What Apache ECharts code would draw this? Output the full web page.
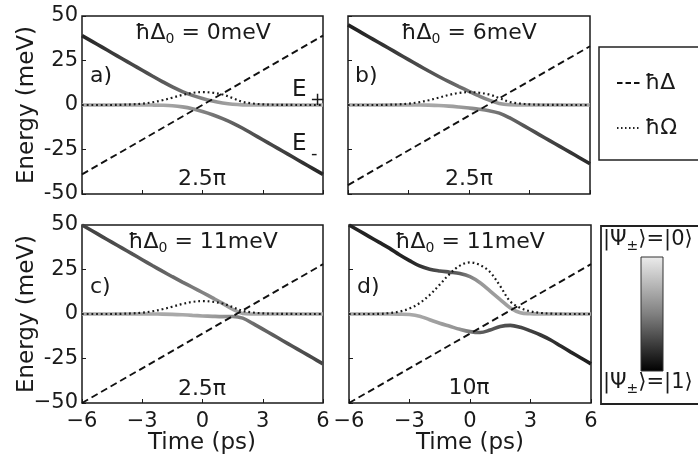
<!DOCTYPE html>
<html><head><meta charset="utf-8">
<script src="https://cdn.jsdelivr.net/npm/echarts@6/dist/echarts.min.js"></script>
<style>html,body{margin:0;padding:0;background:#fff}#c{width:698px;height:461px}</style>
</head><body><div id="c"></div>
<script>
// ---- data ----
const times = [-6,-5.5,-5,-4.5,-4,-3.5,-3,-2.5,-2,-1.5,-1,-0.5,0,0.5,1,1.5,2,2.5,3,3.5,4,4.5,5,5.5,6];
const xTickLabels = ['−6','−3','0','3','6'];
const yTickLabelsA = ['-50','-25','0','25','50'];
const yTickLabelsC = ['−50','-25','0','25','50'];
const panelTitles = ['0meV','6meV','11meV','11meV'];
const panelLetters = ['a)','b)','c)','d)'];
const pulseAreas = ['2.5π','2.5π','2.5π','10π'];

// detuning hbar*Delta at t=-6 and t=6 (straight dashed line)
const detuningA = [-39, 39];
const detuningB = [-45, 33];
const detuningC = [-50, 28];
const detuningD = [-50, 28];

// pulse hbar*Omega (dotted)
const rabiSmall = [0,0,0,0,0.13,0.34,0.77,1.52,2.67,4.1,5.65,6.8,7.25,6.9,5.9,3.9,1.75,0.85,0.38,0.15,0.05,0.02,0,0,0];
const rabiLarge = [0,0,0,0.05,0.5,1.36,3.06,6.1,10.7,16.5,22.6,27.2,29,27.5,23.5,15.6,7.0,3.4,1.5,0.6,0.2,0.05,0,0,0];

// dressed energies E+ / E-
const ePlusA  = [39,35.75,32.5,29.25,26,22.75,19.51,16.29,13.14,10.16,7.56,5.39,3.63,2.19,1.14,0.38,0.06,0.01,0,0,0,0,0,0,0];
const eMinusA = [0,0,0,0,0,0,-0.01,-0.04,-0.14,-0.41,-1.06,-2.14,-3.63,-5.44,-7.64,-10.13,-13.06,-16.26,-19.5,-22.75,-26,-29.25,-32.5,-35.75,-39];
const ePlusB  = [45,41.75,38.5,35.25,32,28.75,25.51,22.28,19.09,16.01,13.11,10.37,7.71,5.09,2.71,0.83,0.11,0.02,0,0,0,0,0,0,0];
const eMinusB = [0,0,0,0,0,0,-0.01,-0.03,-0.09,-0.26,-0.61,-1.12,-1.71,-2.34,-3.21,-4.58,-7.11,-10.27,-13.5,-16.75,-20,-23.25,-26.5,-29.75,-33];
const ePlusC  = [50,46.75,43.5,40.25,37,33.75,30.51,27.27,24.07,20.95,17.94,15.02,12.09,9.06,5.96,2.67,0.33,0.03,0,0,0,0,0,0,0];
const eMinusC = [0,0,0,0,0,0,-0.01,-0.02,-0.07,-0.2,-0.44,-0.77,-1.09,-1.31,-1.46,-1.42,-2.33,-5.28,-8.5,-11.75,-15,-18.25,-21.5,-24.75,-28];
const ePlusD  = [50,46.75,43.5,40.25,37,33.3,30,27,25.2,24.2,23.5,22.7,21,17.6,12.9,8.1,3.4,0.7,0.15,0.03,0,0,0,0,0];
const eMinusD = [0,0,0,0,0,-0.1,-0.3,-1.2,-3.2,-5.2,-6.9,-8.6,-9.9,-10.4,-9.0,-7.0,-6.4,-7.5,-9.5,-11.8,-14.6,-18.0,-21.4,-24.7,-28];

// population of |1> along each branch (0 = |0>, 1 = |1>), read from grey shade
const shadePlusA  = [0.85,0.82,0.79,0.76,0.73,0.7,0.68,0.65,0.62,0.58,0.54,0.49,0.44,0.38,0.33,0.3,0.28,0.27,0.27,0.27,0.27,0.27,0.27,0.27,0.27];
const shadeMinusA = [0.27,0.27,0.27,0.27,0.27,0.27,0.27,0.27,0.28,0.3,0.33,0.38,0.44,0.49,0.54,0.58,0.62,0.65,0.68,0.7,0.73,0.76,0.79,0.82,0.85];
const shadePlusB  = [0.87,0.85,0.82,0.8,0.77,0.74,0.71,0.68,0.65,0.62,0.58,0.54,0.5,0.45,0.4,0.34,0.3,0.28,0.27,0.27,0.27,0.27,0.27,0.27,0.27];
const shadeMinusB = [0.27,0.27,0.27,0.27,0.27,0.27,0.27,0.27,0.27,0.28,0.3,0.33,0.37,0.42,0.47,0.52,0.57,0.61,0.65,0.68,0.71,0.74,0.77,0.8,0.83];
const shadePlusC  = [0.72,0.71,0.7,0.68,0.66,0.64,0.62,0.6,0.58,0.55,0.52,0.48,0.44,0.4,0.35,0.31,0.28,0.27,0.27,0.27,0.27,0.27,0.27,0.27,0.27];
const shadeMinusC = [0.27,0.27,0.27,0.27,0.27,0.27,0.27,0.27,0.27,0.27,0.27,0.28,0.3,0.33,0.37,0.42,0.48,0.53,0.57,0.6,0.63,0.65,0.67,0.69,0.7];
const shadePlusD  = [0.85,0.85,0.85,0.85,0.85,0.85,0.85,0.8,0.72,0.66,0.63,0.6,0.45,0.34,0.33,0.32,0.31,0.29,0.27,0.27,0.27,0.27,0.27,0.27,0.27];
const shadeMinusD = [0.27,0.27,0.27,0.27,0.27,0.27,0.27,0.28,0.3,0.32,0.34,0.37,0.48,0.6,0.63,0.65,0.67,0.7,0.73,0.76,0.79,0.82,0.84,0.86,0.88];

// ---- chart ----
const FONT = '"DejaVu Sans", sans-serif';
const INK = '#1a1a1a';
function grey(p){ const g = Math.round(232*(1-p)); return 'rgb('+g+','+g+','+g+')'; }
function shadeGradient(sh){
  return new echarts.graphic.LinearGradient(0,0,1,0,
    times.map((t,k)=>({offset:(t+6)/12, color:grey(sh[k])})));
}
const panels = [
  {grid:{left:82, top:16, width:241, height:178}, det:detuningA, rabi:rabiSmall, ep:ePlusA, em:eMinusA, sp:shadePlusA, sm:shadeMinusA, yl:yTickLabelsA, xl:false},
  {grid:{left:348, top:16, width:242, height:178}, det:detuningB, rabi:rabiSmall, ep:ePlusB, em:eMinusB, sp:shadePlusB, sm:shadeMinusB, yl:null, xl:false},
  {grid:{left:82, top:225, width:241, height:178}, det:detuningC, rabi:rabiSmall, ep:ePlusC, em:eMinusC, sp:shadePlusC, sm:shadeMinusC, yl:yTickLabelsC, xl:true},
  {grid:{left:349, top:225, width:242, height:178}, det:detuningD, rabi:rabiLarge, ep:ePlusD, em:eMinusD, sp:shadePlusD, sm:shadeMinusD, yl:null, xl:true},
];
const yTickValues = [-50,-25,0,25,50];
const xTickValues = [-6,-3,0,3,6];

const option = {
  backgroundColor:'#fff',
  animation:false,
  grid: panels.map(p=>Object.assign({show:true, borderColor:'#1a1a1a', borderWidth:1.5, backgroundColor:'transparent'}, p.grid)),
  xAxis: panels.map((p,i)=>({
    type:'value', gridIndex:i, min:-6, max:6, interval:3, position:'bottom',
    axisLine:{show:false, onZero:false}, splitLine:{show:false},
    axisTick:{show:true, inside:true, length:4, lineStyle:{color:INK, width:1}},
    axisLabel:{show:p.xl, margin:8, fontSize:21, fontFamily:FONT, color:INK, showMinLabel:true, showMaxLabel:true, hideOverlap:false,
      formatter:v=>xTickLabels[xTickValues.indexOf(v)]}
  })),
  yAxis: panels.map((p,i)=>({
    type:'value', gridIndex:i, min:-50, max:50, interval:25, position:'left',
    axisLine:{show:false, onZero:false}, splitLine:{show:false},
    axisTick:{show:true, inside:true, length:4, lineStyle:{color:INK, width:1}},
    axisLabel:{show:!!p.yl, margin:4, fontSize:21, fontFamily:FONT, color:INK, showMinLabel:true, showMaxLabel:true, hideOverlap:false,
      formatter:v=>p.yl ? p.yl[yTickValues.indexOf(v)] : ''}
  })),
  series: [].concat(...panels.map((p,i)=>[
    {type:'line', xAxisIndex:i, yAxisIndex:i, data:times.map((t,k)=>[t,p.ep[k]]), smooth:0.35, showSymbol:false, z:2,
      lineStyle:{width:3.6, color:shadeGradient(p.sp)}},
    {type:'line', xAxisIndex:i, yAxisIndex:i, data:times.map((t,k)=>[t,p.em[k]]), smooth:0.35, showSymbol:false, z:2,
      lineStyle:{width:3.6, color:shadeGradient(p.sm)}},
    {type:'line', xAxisIndex:i, yAxisIndex:i, data:times.map((t,k)=>[t,p.rabi[k]]), smooth:0.35, showSymbol:false, z:3,
      lineStyle:{width:2.2, color:'#1a1a1a', type:[1.8,2.9]}},
    {type:'line', xAxisIndex:i, yAxisIndex:i, data:[[-6,p.det[0]],[6,p.det[1]]], showSymbol:false, z:4,
      lineStyle:{width:1.9, color:'#111', type:[7,4]}}
  ])),
  graphic: []
};

const G = option.graphic;
function txt(x,y,text,size,align,extra){
  G.push(Object.assign({type:'text', x:x, y:y, z:100, style:{text:text, fontSize:size, fontFamily:FONT, fill:INK,
    textAlign:align||'center', textVerticalAlign:'middle', verticalAlign:'middle'}}, extra||{}));
}
function richTxt(x,y,text,rich,align){
  G.push({type:'text', x:x, y:y, z:100, style:{text:text, rich:rich, fontFamily:FONT, fill:INK,
    textAlign:align||'center', textVerticalAlign:'middle', verticalAlign:'middle'}});
}
const titleRich = {m:{fontSize:22, fontFamily:FONT, color:INK}, s:{fontSize:14, fontFamily:FONT, color:INK, padding:[12,0,0,0]}};
const titlePos = [[203,33],[469,33],[203,242],[470,242]];
const letterPos = [[90,76],[355,76],[90,287],[357,287]];
const areaPos = [[202,179],[469,179],[202,389],[469,388]];
panels.forEach((p,i)=>{
  richTxt(titlePos[i][0], titlePos[i][1], '{m|ħΔ}{s|0}{m| = '+panelTitles[i]+'}', titleRich);
  txt(letterPos[i][0], letterPos[i][1], panelLetters[i], 22, 'left');
  txt(areaPos[i][0], areaPos[i][1], pulseAreas[i], 22);
});
// branch labels
txt(292, 90, 'E', 23, 'left');
txt(310, 100, '+', 18, 'left');
txt(292, 144, 'E', 23, 'left');
txt(311, 154, '-', 18, 'left');
// axis titles
txt(27, 105, 'Energy (meV)', 23, 'center', {rotation:Math.PI/2});
txt(27, 314, 'Energy (meV)', 23, 'center', {rotation:Math.PI/2});
txt(202, 443, 'Time (ps)', 23);
txt(470, 443, 'Time (ps)', 23);
// legend box
G.push({type:'rect', z:90, shape:{x:599, y:47, width:160, height:113}, style:{fill:'#fff', stroke:'#222', lineWidth:1.5}});
G.push({type:'line', z:100, shape:{x1:617, y1:83, x2:641, y2:83}, style:{stroke:'#111', lineWidth:1.8, lineDash:[5.5,3]}});
G.push({type:'line', z:100, shape:{x1:617, y1:128, x2:641, y2:128}, style:{stroke:'#222', lineWidth:1.8, lineDash:[1.5,2.5]}});
txt(645, 83, 'ħΔ', 22, 'left');
txt(645, 128, 'ħΩ', 22, 'left');
// colour bar box
G.push({type:'rect', z:90, shape:{x:601, y:226, width:160, height:178}, style:{fill:'#fff', stroke:'#222', lineWidth:1.8}});
G.push({type:'rect', z:100, shape:{x:641, y:257, width:22, height:114},
  style:{fill:new echarts.graphic.LinearGradient(0,0,0,1,[{offset:0,color:'#ececec'},{offset:0.5,color:'#808080'},{offset:1,color:'#000'}]), stroke:'#333', lineWidth:1}});
const ketRich = {m:{fontSize:21, fontFamily:FONT, color:INK}, s:{fontSize:14, fontFamily:FONT, color:INK, padding:[12,0,0,0]}};
richTxt(603, 240, '{m||Ψ}{s|±}{m|⟩=|0⟩}', ketRich, 'left');
richTxt(603, 383, '{m||Ψ}{s|±}{m|⟩=|1⟩}', ketRich, 'left');

const chart = echarts.init(document.getElementById('c'), null, {renderer:'canvas'});
chart.setOption(option);
</script></body></html>
